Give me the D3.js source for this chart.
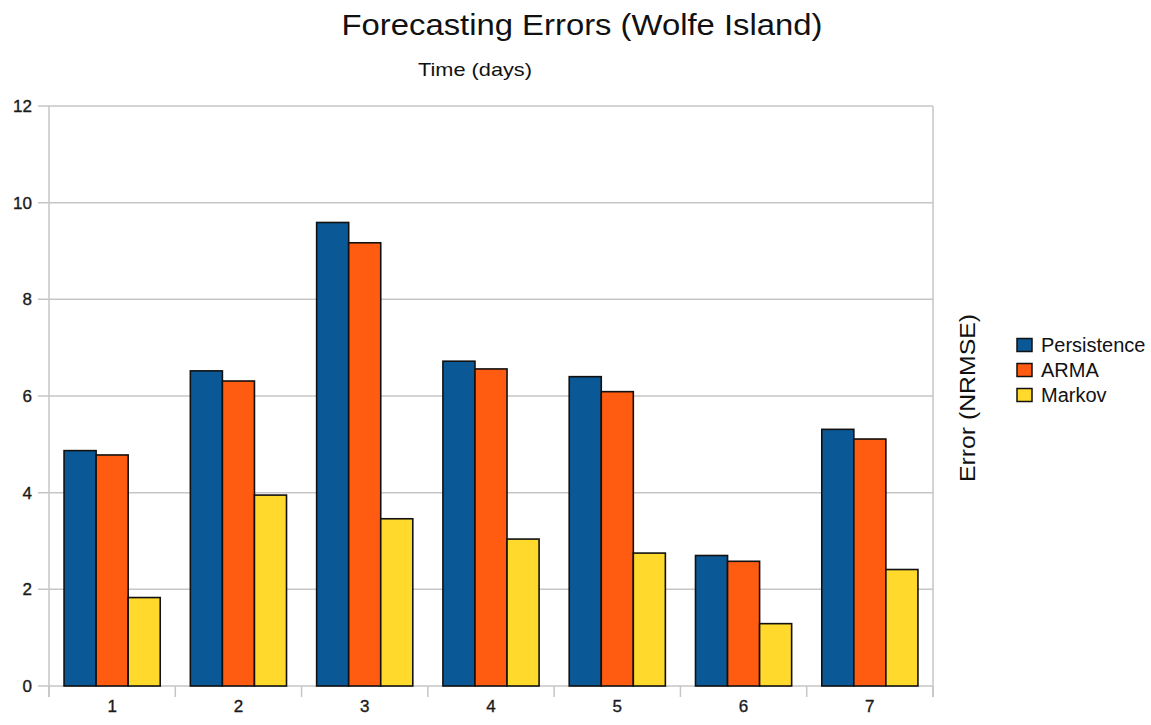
<!DOCTYPE html>
<html>
<head>
<meta charset="utf-8">
<script src="https://cdn.jsdelivr.net/npm/d3@7"></script>
<style>
  body { margin: 0; background: #fff; }
  svg { display: block; font-family: "Liberation Sans", Arial, sans-serif; }
</style>
</head>
<body>
<svg id="chart" width="1151" height="725"></svg>
<script>
const categories = ["1", "2", "3", "4", "5", "6", "7"];
const seriesNames = ["Persistence", "ARMA", "Markov"];
const persistence = [4.87, 6.52, 9.59, 6.72, 6.40, 2.70, 5.31];
const arma = [4.78, 6.31, 9.17, 6.56, 6.09, 2.58, 5.11];
const markov = [1.83, 3.95, 3.46, 3.04, 2.75, 1.29, 2.41];
const yTicks = [0, 2, 4, 6, 8, 10, 12];
const colors = ["#0b5896", "#ff5b11", "#ffd92b"];

(function () {
const seriesValues = [persistence, arma, markov];
const rows = categories.map((c, i) => ({
  cat: c,
  vals: seriesNames.map((s, j) => ({ s, v: seriesValues[j][i], c: colors[j] }))
}));

const svg = d3.select("#chart");
const pLeft = 49, pRight = 933, pTop = 106, pBottom = 686;

const x0 = d3.scaleBand().domain(categories).range([pLeft, pRight]).padding(0);
const x1 = d3.scaleBand().domain(seriesNames).range([0, x0.bandwidth()])
  .paddingInner(0).paddingOuter(0.47);
const y = d3.scaleLinear().domain([0, 12]).range([pBottom, pTop]);

// gridlines
svg.append("g").selectAll("line").data(yTicks).join("line")
  .attr("x1", pLeft - 11).attr("x2", pRight)
  .attr("y1", d => y(d)).attr("y2", d => y(d))
  .attr("stroke", "#c6c6c6").attr("stroke-width", 1.5);

// vertical frame lines
svg.append("g").selectAll("line").data([pLeft, pRight]).join("line")
  .attr("x1", d => d).attr("x2", d => d)
  .attr("y1", pTop).attr("y2", pBottom + 11)
  .attr("stroke", "#c6c6c6").attr("stroke-width", 1.5);

// category ticks
const bounds = categories.map(c => x0(c)).concat([pRight]);
svg.append("g").selectAll("line").data(bounds).join("line")
  .attr("x1", d => d).attr("x2", d => d)
  .attr("y1", pBottom).attr("y2", pBottom + 11)
  .attr("stroke", "#c6c6c6").attr("stroke-width", 1.5);

// y labels
svg.append("g").selectAll("text").data(yTicks).join("text")
  .attr("x", 32).attr("y", d => y(d)).attr("dy", "0.35em")
  .attr("text-anchor", "end").attr("font-size", 17).attr("fill", "#1a1a1a")
  .attr("stroke", "#1a1a1a").attr("stroke-width", 0.35)
  .text(d => d);

// x labels
svg.append("g").selectAll("text").data(categories).join("text")
  .attr("x", d => x0(d) + x0.bandwidth() / 2).attr("y", 712)
  .attr("text-anchor", "middle").attr("font-size", 17).attr("fill", "#1a1a1a")
  .attr("stroke", "#1a1a1a").attr("stroke-width", 0.35)
  .text(d => d);

// bars
const groups = svg.append("g").selectAll("g").data(rows).join("g")
  .attr("transform", d => `translate(${x0(d.cat)},0)`);
groups.selectAll("rect").data(d => d.vals).join("rect")
  .attr("x", d => x1(d.s)).attr("width", x1.bandwidth())
  .attr("y", d => y(d.v)).attr("height", d => y(0) - y(d.v))
  .attr("fill", d => d.c).attr("stroke", "#111").attr("stroke-width", 1.6);

// title
svg.append("text").attr("x", 582).attr("y", 35).attr("text-anchor", "middle")
  .attr("font-size", 29).attr("fill", "#111")
  .attr("textLength", 481).attr("lengthAdjust", "spacingAndGlyphs")
  .text("Forecasting Errors (Wolfe Island)");

svg.append("text").attr("x", 475).attr("y", 76).attr("text-anchor", "middle")
  .attr("font-size", 19).attr("fill", "#111")
  .attr("textLength", 114).attr("lengthAdjust", "spacingAndGlyphs")
  .text("Time (days)");

svg.append("text").attr("transform", "translate(975,398) rotate(-90)")
  .attr("text-anchor", "middle").attr("font-size", 22).attr("fill", "#111")
  .attr("textLength", 168).attr("lengthAdjust", "spacingAndGlyphs")
  .text("Error (NRMSE)");

// legend
const leg = svg.append("g").selectAll("g").data(seriesNames).join("g")
  .attr("transform", (d, i) => `translate(1017,${345 + i * 25})`);
leg.append("rect").attr("x", 0).attr("y", -6.5).attr("width", 15).attr("height", 13)
  .attr("fill", (d, i) => colors[i]).attr("stroke", "#111").attr("stroke-width", 1.5);
leg.append("text").attr("x", 24).attr("y", 0).attr("dy", "0.35em")
  .attr("font-size", 20).attr("fill", "#111").text(d => d);
})();
</script>
</body>
</html>
